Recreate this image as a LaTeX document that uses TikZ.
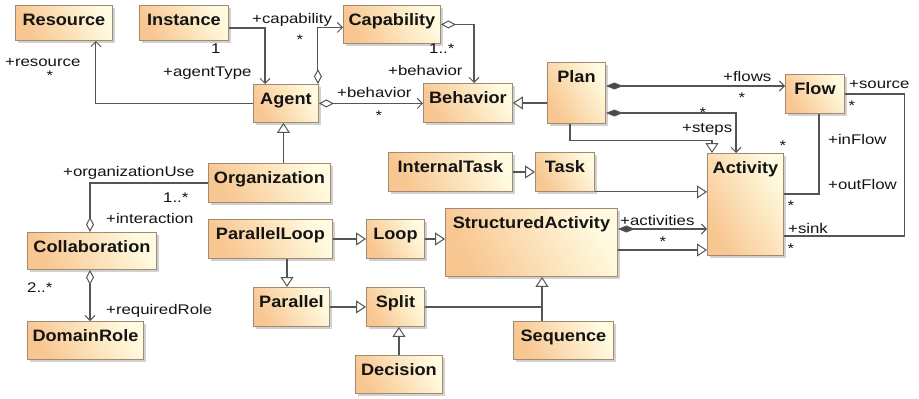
\documentclass[tikz,border=0pt]{standalone}
\usepackage{fontspec}
\setmainfont{Liberation Sans}
\newfontfamily\umlfont{Liberation Sans}[FakeStretch=1.2]
\newfontfamily\umlboldfont{Liberation Sans Bold}[FakeStretch=1.1]
\usetikzlibrary{arrows.meta,shadows,calc}
\definecolor{boxL}{HTML}{F8C690}
\definecolor{boxR}{HTML}{FFFBE0}
\definecolor{boxBorder}{HTML}{A08A72}
\definecolor{wirec}{HTML}{555555}
\definecolor{ink}{HTML}{141414}

% class box: name, x1, y1, x2, y2, title (title baseline 20pt below the top edge)
\newcommand\umlclass[6]{%
  \pgfmathsetmacro\clsW{#4-#2}%
  \pgfmathsetmacro\clsD{#5-#3-20}%
  \node[classbox, minimum width=\clsW pt, text depth=\clsD pt] (#1) at (#2,#3) {#6};}

\begin{document}
\begin{tikzpicture}[x=1pt, y=-1pt,
  classbox/.style={draw=boxBorder, line width=0.9pt, left color=boxL, right color=boxR,
     shading angle=120,
     drop shadow={shadow xshift=3pt, shadow yshift=-3pt, fill=black!40, opacity=0.45},
     anchor=north west, inner sep=0pt, text height=20pt,
     font=\umlboldfont\fontsize{16.5}{18}\selectfont, text=ink},
  lbl/.style={font=\umlfont\fontsize{14}{16}\selectfont, text=ink, inner sep=0pt, anchor=base west},
  mult/.style={font=\umlfont\fontsize{14}{16}\selectfont, text=ink, inner sep=0pt},
  wire/.style={draw=wirec, line width=1.1pt},
  vee/.style={wire, -{Straight Barb[length=5pt, width=10pt, line width=1pt]}},
  gen/.style={wire, -{Triangle[open, length=10pt, width=13pt, line width=1pt, fill=white]}},
  aggvee/.style={wire, {Diamond[open, length=15pt, width=8pt, line width=1pt, fill=white]}-{Straight Barb[length=5pt, width=10pt, line width=1pt]}},
  compvee/.style={wire, {Diamond[length=17pt, width=7pt, fill=wirec!85!black]}-{Straight Barb[length=5pt, width=10pt, line width=1pt]}},
  aggend/.style={wire, -{Diamond[open, length=15pt, width=8pt, line width=1pt, fill=white]}},
]
\fill[white] (0,0) rectangle (919,399);
\useasboundingbox (0,0) rectangle (919,399);

% classes
\umlclass{res}{15}{5}{112}{40}{Resource}
\umlclass{inst}{139}{5}{228}{40}{Instance}
\umlclass{cap}{343}{5}{440}{43}{Capability}
\umlclass{ag}{253}{84}{318}{122}{Agent}
\umlclass{beh}{423}{83}{512}{122}{Behavior}
\umlclass{plan}{547}{62}{605}{123}{Plan}
\umlclass{flow}{785}{74}{844}{113}{Flow}
\umlclass{act}{707}{153}{783}{255}{Activity}
\umlclass{it}{388}{152}{512}{191}{InternalTask}
\umlclass{task}{535}{152}{594}{191}{Task}
\umlclass{sa}{445}{208}{617}{276}{StructuredActivity}
\umlclass{loop}{366}{219}{424}{258}{Loop}
\umlclass{org}{208}{163}{330}{202}{Organization}
\umlclass{pl}{208}{219}{332}{258}{ParallelLoop}
\umlclass{par}{253}{287}{329}{326}{Parallel}
\umlclass{split}{366}{287}{424}{326}{Split}
\umlclass{dec}{355}{355}{442}{393}{Decision}
\umlclass{seq}{513}{321}{613}{359}{Sequence}
\umlclass{col}{27}{232}{156}{269}{Collaboration}
\umlclass{dom}{27}{321}{143}{359}{DomainRole}

% associations around Agent
\draw[vee] (ag.west) -| ($(res.south east)+(-17,0)$);
\draw[vee] ($(inst.east)+(0,5)$) -| ($(ag.north west)+(12,0)$);
\draw[aggvee] ($(ag.north east)+(-1,0)$) |- ($(cap.west)+(0,3)$);
\draw[aggvee] (cap.east) -| ($(beh.north west)+(51,0)$);
\draw[aggvee] (ag.east) -- (ag.east -| beh.west);
\coordinate (og) at ($(ag.south)+(-2.5,0)$);
\draw[gen] (og |- org.north) -- (og);
\draw[aggend] (org.west) -| ($(col.north west)+(63,0)$);
\draw[aggvee] ($(col.south west)+(63,0)$) -- ($(dom.north west)+(63,0)$);

% Plan and Activity
\draw[gen] (plan.west |- beh.east) -- (beh.east);
\coordinate (pf) at ($(plan.north east)+(0,24)$);
\draw[compvee] (pf) -- (pf -| flow.west);
\draw[compvee] ($(plan.north east)+(0,51)$) -| ($(act.north west)+(29,0)$);
\draw[gen] ($(plan.south west)+(23,0)$) -- ++(0,17) -| ($(act.north west)+(5,0)$);
\draw[gen] (task.south east) -- (task.south east -| act.west);
\draw[gen] (it.east) -- (task.west);
\coordinate (sa1) at ($(sa.north east)+(0,21)$);
\draw[compvee] (sa1) -- (sa1 -| act.west);
\coordinate (sa2) at ($(sa.north east)+(0,42)$);
\draw[gen] (sa2) -- (sa2 -| act.west);
\draw[wire] ($(flow.south west)+(34,0)$) |- ($(act.north east)+(0,41)$);
\draw[wire] (flow.east) -- ++(60,0) |- ($(act.north east)+(0,83)$);

% structured activities
\draw[gen] (pl.east) -- (loop.west);
\draw[gen] (loop.east) -- (loop.east -| sa.west);
\coordinate (pp) at ($(pl.south west)+(79,0)$);
\draw[gen] (pp) -- (pp |- par.north);
\draw[gen] (par.east) -- (split.west);
\draw[gen] (dec.north) -- (dec.north |- split.south);
\draw[gen] (split.east) -| ($(sa.south west)+(97,0)$);
\coordinate (sq) at ($(seq.north west)+(29,0)$);
\draw[wire] (sq) -- (sq |- split.east);

% role names and multiplicities
\node[lbl] (t1) at (5,66) {+resource};
\node[mult] (t2) at (50,76) {*};
\node[lbl] (t3) at (211,53) {1};
\node[lbl] (t4) at (163,76) {+agentType};
\node[lbl] (t5) at (252,23) {+capability};
\node[mult] (t6) at (300,40) {*};
\node[lbl] (t7) at (429,53) {1..*};
\node[lbl] (t8) at (388,75) {+behavior};
\node[lbl] (t9) at (337,97) {+behavior};
\node[mult] (t10) at (379,116) {*};
\node[lbl] (t11) at (723,81) {+flows};
\node[mult] (t12) at (742,98) {*};
\node[mult] (t13) at (703,113) {*};
\node[lbl] (t14) at (682,132) {+steps};
\node[mult] (t15) at (783,146) {*};
\node[lbl] (t16) at (849,88) {+source};
\node[mult] (t17) at (852,106) {*};
\node[lbl] (t18) at (828,144) {+inFlow};
\node[lbl] (t19) at (828,189) {+outFlow};
\node[mult] (t20) at (791,206) {*};
\node[lbl] (t21) at (788,233) {+sink};
\node[mult] (t22) at (791,249) {*};
\node[lbl] (t23) at (620,225) {+activities};
\node[mult] (t24) at (663,242) {*};
\node[lbl] (t25) at (63,176) {+organizationUse};
\node[lbl] (t26) at (163,202) {1..*};
\node[lbl] (t27) at (106,223) {+interaction};
\node[lbl] (t28) at (27,292) {2..*};
\node[lbl] (t29) at (106,314) {+requiredRole};
\end{tikzpicture}
\end{document}
